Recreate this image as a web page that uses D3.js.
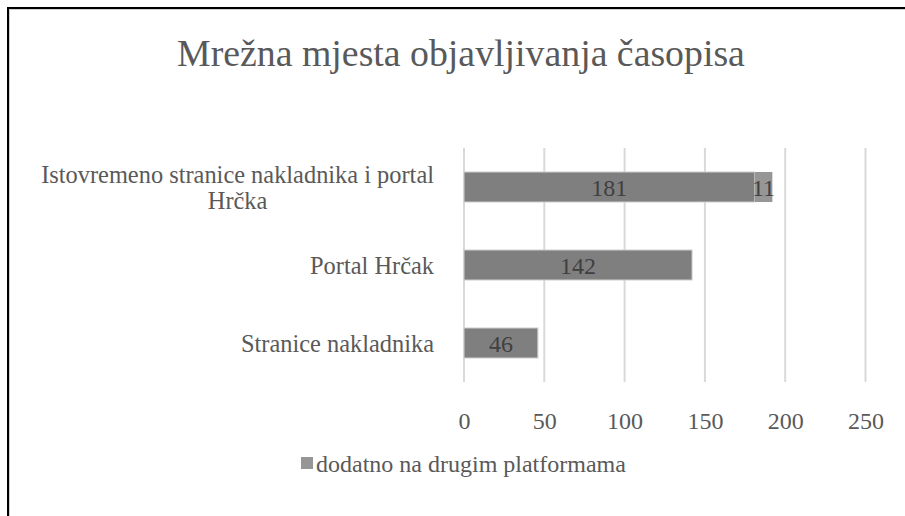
<!DOCTYPE html>
<html>
<head>
<meta charset="utf-8">
<script src="https://cdn.jsdelivr.net/npm/d3@7"></script>
</head>
<body style="margin:0">
<div id="chart"></div>
<script>
// data
const categories = [
    ["Istovremeno stranice nakladnika i portal", "Hrčka"],
    ["Portal Hrčak"],
    ["Stranice nakladnika"]
];
const baseValues = [181, 142, 46];
const extraValues = [11, null, null];
const ticks = [0, 50, 100, 150, 200, 250];
const legendLabel = "dodatno na drugim platformama";
const title = "Mrežna mjesta objavljivanja časopisa";

const W = 905, H = 516;
const FONT = "'Liberation Serif', 'Times New Roman', serif";

const svg = d3.select("#chart")
    .append("svg")
    .attr("width", W)
    .attr("height", H);

svg.append("rect").attr("width", W).attr("height", H).attr("fill", "#fff");

// outer frame (right and bottom run past the window)
svg.append("rect")
    .attr("x", 8).attr("y", 8)
    .attr("width", 1000).attr("height", 1000)
    .attr("fill", "none")
    .attr("stroke", "#000")
    .attr("stroke-width", 2);
svg.append("rect")
    .attr("x", 9.5).attr("y", 9.5)
    .attr("width", 1000).attr("height", 1000)
    .attr("fill", "none")
    .attr("stroke", "#d0d0d0")
    .attr("stroke-width", 1);

// title
svg.append("text")
    .attr("x", 461)
    .attr("y", 66)
    .attr("text-anchor", "middle")
    .attr("font-size", "37.8px")
    .attr("fill", "#595959")
    .text(title);

// scales
const x = d3.scaleLinear()
    .domain([0, 250])
    .range([464, 865.5]);

const y = d3.scaleBand()
    .domain(d3.range(categories.length))
    .range([148, 382])
    .paddingInner(0.615)
    .paddingOuter(0.3075);

// gridlines
svg.append("g")
    .selectAll("line")
    .data(ticks)
    .join("line")
        .attr("x1", d => x(d)).attr("x2", d => x(d))
        .attr("y1", 148).attr("y2", 382)
        .attr("stroke", "#d9d9d9")
        .attr("stroke-width", 2);

// x axis labels
const xAxis = svg.append("g")
    .attr("transform", "translate(0,412)")
    .call(d3.axisBottom(x).tickValues(ticks).tickSize(0).tickPadding(0));
xAxis.select(".domain").remove();
xAxis.selectAll("text")
    .attr("font-size", "24px")
    .attr("fill", "#595959")
    .attr("dy", "0.71em");

// category labels, one text per line
const catG = svg.append("g");
categories.forEach((lines, i) => {
    const cy = y(i) + y.bandwidth() / 2;
    if (lines.length === 1) {
        catG.append("text")
            .attr("x", 434).attr("y", cy).attr("dy", "0.36em")
            .attr("text-anchor", "end")
            .attr("font-size", "24.4px").attr("fill", "#595959")
            .text(lines[0]);
    } else {
        catG.append("text")
            .attr("class", "wrapfirst")
            .attr("x", 434).attr("y", cy - 4)
            .attr("text-anchor", "end")
            .attr("font-size", "24.4px").attr("fill", "#595959")
            .text(lines[0]);
        catG.append("text")
            .attr("class", "wrapsecond")
            .attr("y", cy + 22)
            .attr("text-anchor", "middle")
            .attr("font-size", "24.4px").attr("fill", "#595959")
            .text(lines[1]);
    }
});

// bars
const bars = svg.append("g");
bars.selectAll("rect.base")
    .data(baseValues)
    .join("rect")
        .attr("class", "base")
        .attr("x", x(0))
        .attr("y", (d, i) => y(i))
        .attr("width", d => x(d) - x(0))
        .attr("height", y.bandwidth())
        .attr("fill", "#7f7f7f")
        .attr("stroke", "#cfcfcf")
        .attr("stroke-width", 1);

const extras = extraValues
    .map((v, i) => ({ v: v, b: baseValues[i], i: i }))
    .filter(d => d.v != null);

bars.selectAll("rect.extra")
    .data(extras)
    .join("rect")
        .attr("class", "extra")
        .attr("x", d => x(d.b))
        .attr("y", d => y(d.i))
        .attr("width", d => x(d.b + d.v) - x(d.b))
        .attr("height", y.bandwidth())
        .attr("fill", "#969696");

// data labels
svg.append("g")
    .selectAll("text")
    .data(baseValues)
    .join("text")
        .attr("x", d => (x(0) + x(d)) / 2)
        .attr("y", (d, i) => y(i) + y.bandwidth() / 2)
        .attr("dy", "0.36em")
        .attr("text-anchor", "middle")
        .attr("font-size", "24px")
        .attr("fill", "#404040")
        .text(d => d);

svg.append("g")
    .selectAll("text")
    .data(extras)
    .join("text")
        .attr("x", d => (x(d.b) + x(d.b + d.v)) / 2)
        .attr("y", d => y(d.i) + y.bandwidth() / 2)
        .attr("dy", "0.36em")
        .attr("text-anchor", "middle")
        .attr("font-size", "24px")
        .attr("fill", "#404040")
        .text(d => d.v);

// legend
const legend = svg.append("g").attr("transform", "translate(301,463)");
legend.append("rect")
    .attr("x", 0).attr("y", -6)
    .attr("width", 12).attr("height", 12)
    .attr("fill", "#969696");
legend.append("text")
    .attr("x", 15)
    .attr("y", 0)
    .attr("dy", "0.36em")
    .attr("font-size", "24px")
    .attr("fill", "#595959")
    .text(legendLabel);

// same serif face on every text
svg.selectAll("text")
    .attr("font-family", FONT)
    .style("font-family", FONT);

// centre the wrapped second line under the first, after the font is set
const w1 = svg.select("text.wrapfirst").node().getComputedTextLength();
svg.select("text.wrapsecond").attr("x", 434 - w1 / 2);
</script>
</body>
</html>
